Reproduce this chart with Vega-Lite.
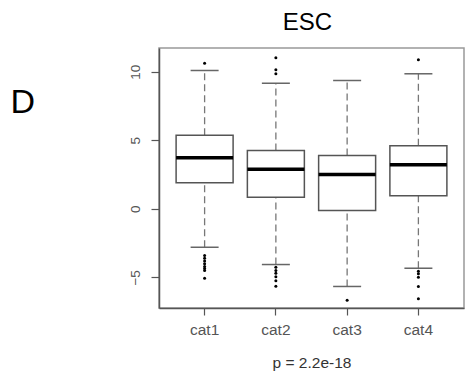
{
  "$schema": "https://vega.github.io/schema/vega-lite/v6.json",
  "width": 305,
  "height": 260,
  "autosize": {"type": "none"},
  "padding": {"left": 159, "top": 48, "right": 1, "bottom": 66},
  "background": "white",
  "title": {"text": "ESC", "fontSize": 24, "font": "Liberation Sans", "fontWeight": "normal", "anchor": "middle", "baseline": "alphabetic", "offset": 16, "dx": -4, "dy": 22, "color": "black"},
  "config": {
    "font": "Liberation Sans",
    "view": {"stroke": "#999", "strokeWidth": 1.5},
    "axis": {"grid": false, "domainColor": "#555", "domainWidth": 1.5, "tickColor": "#555", "tickWidth": 1.2, "labelColor": "#555", "labelFont": "Liberation Sans", "titleFont": "Liberation Sans", "titleFontWeight": "normal", "titleColor": "#333"},
    "axisX": {"labelFontSize": 15.5, "tickSize": 7, "labelPadding": 7, "labelAngle": 0, "titleFontSize": 15.5, "titleBaseline": "alphabetic", "titleY": 59},
    "axisY": {"labelAngle": -90, "labelAlign": "center", "labelBaseline": "bottom", "labelFontSize": 13.5, "tickSize": 8, "labelPadding": 9, "titleAngle": 0, "titleFontSize": 34, "titleColor": "black", "titleX": -149, "titleY": 64, "titleAlign": "left", "titleBaseline": "alphabetic"},
    "tick": {"opacity": 1}
  },
  "datasets": {
    "stats": [
      {"cat": "cat1", "lower": -2.8, "q1": 1.9, "median": 3.72, "q3": 5.37, "upper": 10.09},
      {"cat": "cat2", "lower": -4.06, "q1": 0.85, "median": 2.89, "q3": 4.25, "upper": 9.16},
      {"cat": "cat3", "lower": -5.66, "q1": -0.12, "median": 2.5, "q3": 3.89, "upper": 9.36},
      {"cat": "cat4", "lower": -4.33, "q1": 0.95, "median": 3.21, "q3": 4.6, "upper": 9.85}
    ],
    "outliers": [
      {"cat": "cat1", "value": 10.62},
      {"cat": "cat1", "value": -3.4},
      {"cat": "cat1", "value": -3.6},
      {"cat": "cat1", "value": -3.8},
      {"cat": "cat1", "value": -4.0},
      {"cat": "cat1", "value": -4.2},
      {"cat": "cat1", "value": -4.35},
      {"cat": "cat1", "value": -4.5},
      {"cat": "cat1", "value": -5.06},
      {"cat": "cat2", "value": 11.01},
      {"cat": "cat2", "value": 10.14},
      {"cat": "cat2", "value": 9.85},
      {"cat": "cat2", "value": -4.26},
      {"cat": "cat2", "value": -4.5},
      {"cat": "cat2", "value": -4.7},
      {"cat": "cat2", "value": -4.95},
      {"cat": "cat2", "value": -5.25},
      {"cat": "cat2", "value": -5.65},
      {"cat": "cat3", "value": -6.67},
      {"cat": "cat4", "value": 10.87},
      {"cat": "cat4", "value": -4.55},
      {"cat": "cat4", "value": -4.74},
      {"cat": "cat4", "value": -4.99},
      {"cat": "cat4", "value": -5.67},
      {"cat": "cat4", "value": -6.56}
    ]
  },
  "encoding": {
    "x": {"field": "cat", "type": "nominal", "title": "p = 2.2e-18", "scale": {"domain": ["cat1", "cat2", "cat3", "cat4"], "paddingInner": 0, "paddingOuter": 0.14}}
  },
  "layer": [
    {
      "data": {"name": "stats"},
      "mark": {"type": "rule", "color": "#777", "strokeWidth": 1.3, "strokeDash": [7, 4]},
      "encoding": {
        "y": {"field": "q3", "type": "quantitative", "title": "D", "axis": {"values": [-5, 0, 5, 10]}, "scale": {"domain": [-7.23, 11.73], "nice": false, "zero": false}},
        "y2": {"field": "upper"}
      }
    },
    {
      "data": {"name": "stats"},
      "mark": {"type": "rule", "color": "#777", "strokeWidth": 1.3, "strokeDash": [7, 4]},
      "encoding": {
        "y": {"field": "lower", "type": "quantitative", "title": "D", "axis": {"values": [-5, 0, 5, 10]}, "scale": {"domain": [-7.23, 11.73], "nice": false, "zero": false}},
        "y2": {"field": "q1"}
      }
    },
    {
      "data": {"name": "stats"},
      "mark": {"type": "tick", "color": "#666", "size": 28, "thickness": 1.5, "opacity": 1},
      "encoding": {
        "y": {"field": "upper", "type": "quantitative", "title": "D", "axis": {"values": [-5, 0, 5, 10]}, "scale": {"domain": [-7.23, 11.73], "nice": false, "zero": false}}
      }
    },
    {
      "data": {"name": "stats"},
      "mark": {"type": "tick", "color": "#666", "size": 28, "thickness": 1.5, "opacity": 1},
      "encoding": {
        "y": {"field": "lower", "type": "quantitative", "title": "D", "axis": {"values": [-5, 0, 5, 10]}, "scale": {"domain": [-7.23, 11.73], "nice": false, "zero": false}}
      }
    },
    {
      "data": {"name": "stats"},
      "mark": {"type": "bar", "size": 57, "fill": "white", "stroke": "#555", "strokeWidth": 1.5},
      "encoding": {
        "y": {"field": "q1", "type": "quantitative", "title": "D", "axis": {"values": [-5, 0, 5, 10]}, "scale": {"domain": [-7.23, 11.73], "nice": false, "zero": false}},
        "y2": {"field": "q3"}
      }
    },
    {
      "data": {"name": "stats"},
      "mark": {"type": "tick", "color": "black", "size": 57, "thickness": 3.5, "opacity": 1},
      "encoding": {
        "y": {"field": "median", "type": "quantitative", "title": "D", "axis": {"values": [-5, 0, 5, 10]}, "scale": {"domain": [-7.23, 11.73], "nice": false, "zero": false}}
      }
    },
    {
      "data": {"name": "outliers"},
      "mark": {"type": "point", "filled": true, "color": "black", "size": 9, "opacity": 1},
      "encoding": {
        "y": {"field": "value", "type": "quantitative", "title": "D", "axis": {"values": [-5, 0, 5, 10]}, "scale": {"domain": [-7.23, 11.73], "nice": false, "zero": false}}
      }
    }
  ]
}
